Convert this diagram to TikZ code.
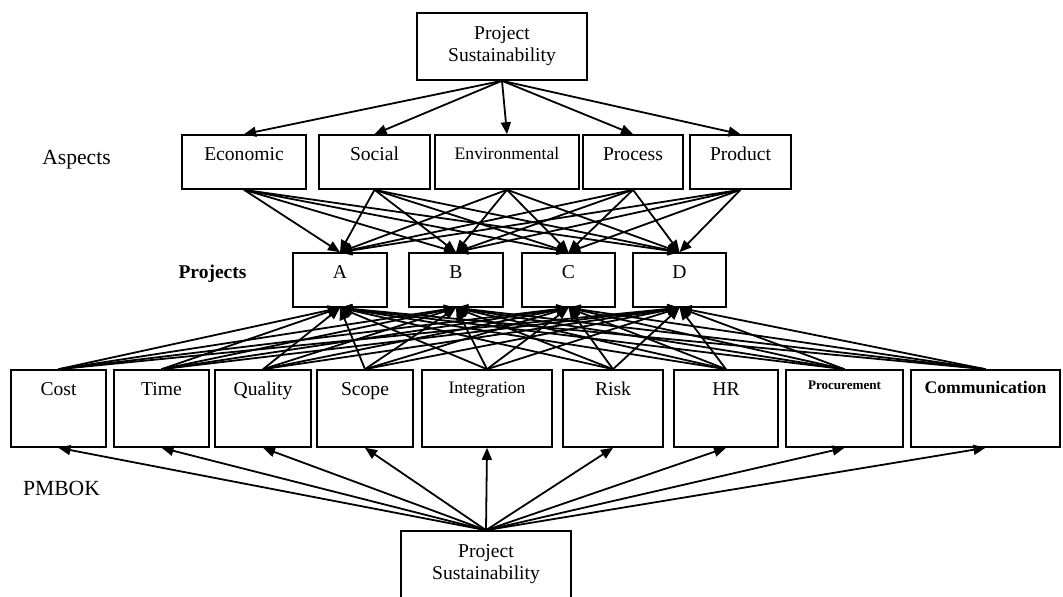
\documentclass[tikz,border=0pt]{standalone}
\usepackage{fontspec}
\setmainfont{Liberation Serif}
\usetikzlibrary{arrows.meta}
\begin{document}
\begin{tikzpicture}[x=1pt,y=-1pt,
  box/.style={draw, line width=1.6pt, inner sep=0pt, minimum height=#1},
  arr/.style={line width=1.8pt, -{Triangle[length=12pt,width=10pt]}},
  txt/.style={anchor=base, yshift=-26pt, inner sep=0pt, font=\fontsize{19.6}{22}\selectfont},
  sidelab/.style={anchor=base, inner sep=0pt, font=\fontsize{21.6}{24}\selectfont}
]
\useasboundingbox (0,0) rectangle (1063,597);
% top
\node[box=67pt, minimum width=170pt, align=center, font=\fontsize{19.6}{22}\selectfont] (top) at (502,46.5) {Project\\Sustainability};
% side labels
\node[sidelab] (aspects) at (76.5,164) {Aspects};
\node[sidelab, font=\bfseries\fontsize{19.5}{22}\selectfont] (projects) at (212.5,278.5) {Projects};
\node[sidelab] (pmbok) at (61.5,495) {PMBOK};
% aspects
\node[box=54pt, minimum width=124pt, label={[txt]north:Economic}] (eco) at (244,162) {};
\node[box=54pt, minimum width=111pt, label={[txt]north:Social}] (soc) at (374.5,162) {};
\node[box=54pt, minimum width=144pt, label={[txt,yshift=1pt,font=\fontsize{17.6}{20}\selectfont]north:Environmental}] (env) at (507,162) {};
\node[box=54pt, minimum width=100pt, label={[txt]north:Process}] (pro) at (633,162) {};
\node[box=54pt, minimum width=101pt, label={[txt]north:Product}] (prd) at (740.5,162) {};
% projects
\node[box=54pt, minimum width=94pt, label={[txt]north:A}] (pA) at (340,280) {};
\node[box=54pt, minimum width=94pt, label={[txt]north:B}] (pB) at (456,280) {};
\node[box=54pt, minimum width=93pt, label={[txt]north:C}] (pC) at (568.5,280) {};
\node[box=54pt, minimum width=93pt, label={[txt]north:D}] (pD) at (679.5,280) {};
% PMBOK areas
\node[box=77pt, minimum width=95pt, label={[txt]north:Cost}] (cost) at (58.5,408.5) {};
\node[box=77pt, minimum width=95pt, label={[txt]north:Time}] (time) at (161.5,408.5) {};
\node[box=77pt, minimum width=96pt, label={[txt]north:Quality}] (qual) at (263,408.5) {};
\node[box=77pt, minimum width=96pt, label={[txt]north:Scope}] (scope) at (365,408.5) {};
\node[box=77pt, minimum width=130pt, label={[txt,yshift=2pt,font=\fontsize{17.5}{20}\selectfont]north:Integration}] (integ) at (487,408.5) {};
\node[box=77pt, minimum width=100pt, label={[txt]north:Risk}] (risk) at (613,408.5) {};
\node[box=77pt, minimum width=104pt, label={[txt]north:HR}] (hr) at (726,408.5) {};
\node[box=77pt, minimum width=117pt, label={[txt,yshift=6pt,font=\bfseries\fontsize{13.1}{15}\selectfont]north:Procurement}] (proc) at (844.5,408.5) {};
\node[box=77pt, minimum width=149pt, label={[txt,yshift=2pt,font=\bfseries\fontsize{17.7}{20}\selectfont]north:Communication}] (comm) at (985.5,408.5) {};
% bottom
\node[box=67pt, minimum width=170pt, align=center, font=\fontsize{19.6}{22}\selectfont] (bot) at (486,564.5) {Project\\Sustainability};
% connectors
\foreach \a in {eco,soc,env,pro,prd} \draw[arr] (top.south) -- (\a.north);
\foreach \a in {eco,soc,env,pro,prd} \foreach \p in {pA,pB,pC,pD} \draw[arr] (\a.south) -- (\p.north);
\foreach \k in {cost,time,qual,scope,integ,risk,hr,proc,comm} \foreach \p in {pA,pB,pC,pD} \draw[arr] (\k.north) -- (\p.south);
\foreach \k in {cost,time,qual,scope,integ,risk,hr,proc,comm} \draw[arr] (bot.north) -- (\k.south);
\end{tikzpicture}
\end{document}
